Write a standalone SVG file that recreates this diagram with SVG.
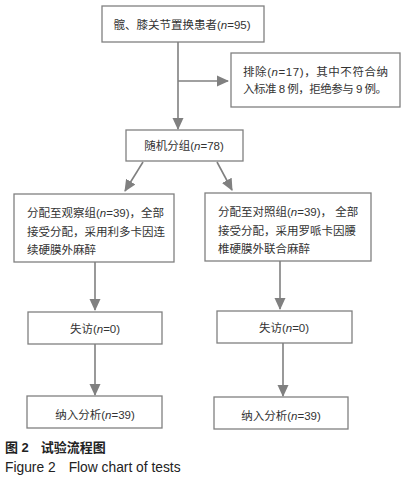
<svg xmlns="http://www.w3.org/2000/svg" width="406" height="485" viewBox="0 0 406 485">
<defs>
<marker id="ah" markerUnits="userSpaceOnUse" markerWidth="12" markerHeight="12" viewBox="0 0 12 12" refX="11" refY="6" orient="auto">
<path d="M0,0.5 L12,6 L0,11.5 Z" fill="#808080"/>
</marker>
<style>
.box{fill:#fff;stroke:#808080;stroke-width:1.3}
.t{font-family:"Liberation Sans","Noto Sans CJK SC",sans-serif;font-size:11.5px;fill:#333}
.c{text-anchor:middle}
.ln{stroke:#808080;stroke-width:1.6;fill:none;marker-end:url(#ah)}
.cap{font-family:"Liberation Sans","Noto Sans CJK SC",sans-serif;fill:#222}
</style>
</defs>
<rect width="406" height="485" fill="#fff"/>
<g id="connectors">
<line class="ln" x1="178" y1="42" x2="178" y2="129"/>
<line class="ln" x1="178" y1="81" x2="228" y2="81"/>
<line class="ln" x1="143" y1="162" x2="125" y2="191"/>
<line class="ln" x1="217" y1="162" x2="232" y2="190"/>
<line class="ln" x1="95" y1="262" x2="95" y2="310"/>
<line class="ln" x1="280" y1="261" x2="280" y2="309"/>
<line class="ln" x1="95" y1="344" x2="95" y2="395"/>
<line class="ln" x1="283" y1="343" x2="283" y2="396"/>
</g>
<g id="n_total">
<rect class="box" x="102" y="6" width="162" height="36"/>
<text class="t c" x="182" y="29">髋、膝关节置换患者(<tspan font-style="italic">n</tspan>=95)</text>
</g>
<g id="n_excl">
<rect class="box" x="231" y="53" width="169" height="54"/>
<text class="t" x="243" y="76" textLength="145" lengthAdjust="spacing">排除(<tspan font-style="italic">n</tspan>=17)，其中不符合纳</text>
<text class="t" x="243" y="93" textLength="144" lengthAdjust="spacing">入标准 8 例，拒绝参与 9 例。</text>
</g>
<g id="n_random">
<rect class="box" x="126" y="130" width="117" height="31"/>
<text class="t c" x="184" y="150">随机分组(<tspan font-style="italic">n</tspan>=78)</text>
</g>
<g id="n_obs">
<rect class="box" x="14" y="194" width="160" height="68"/>
<text class="t" x="27" y="217">分配至观察组(<tspan font-style="italic">n</tspan>=39)，全部</text>
<text class="t" x="27" y="236">接受分配，采用利多卡因连</text>
<text class="t" x="27" y="254">续硬膜外麻醉</text>
</g>
<g id="n_ctrl">
<rect class="box" x="205" y="193" width="166" height="68"/>
<text class="t" x="218" y="216">分配至对照组(<tspan font-style="italic">n</tspan>=39)， 全部</text>
<text class="t" x="218" y="235">接受分配，采用罗哌卡因腰</text>
<text class="t" x="218" y="253">椎硬膜外联合麻醉</text>
</g>
<g id="n_lost_l">
<rect class="box" x="28" y="312" width="134" height="32"/>
<text class="t c" x="95" y="333">失访(<tspan font-style="italic">n</tspan>=0)</text>
</g>
<g id="n_lost_r">
<rect class="box" x="217" y="311" width="135" height="32"/>
<text class="t c" x="284" y="332">失访(<tspan font-style="italic">n</tspan>=0)</text>
</g>
<g id="n_ana_l">
<rect class="box" x="27" y="396" width="135" height="32"/>
<text class="t c" x="95" y="419">纳入分析(<tspan font-style="italic">n</tspan>=39)</text>
</g>
<g id="n_ana_r">
<rect class="box" x="214" y="397" width="134" height="32"/>
<text class="t c" x="281" y="420">纳入分析(<tspan font-style="italic">n</tspan>=39)</text>
</g>
<text class="cap" x="5" y="452" font-size="13" font-weight="bold">图 2<tspan dx="12">试验流程图</tspan></text>
<text class="cap" x="5" y="472" font-size="13.8">Figure 2<tspan dx="13">Flow chart of tests</tspan></text>
</svg>
